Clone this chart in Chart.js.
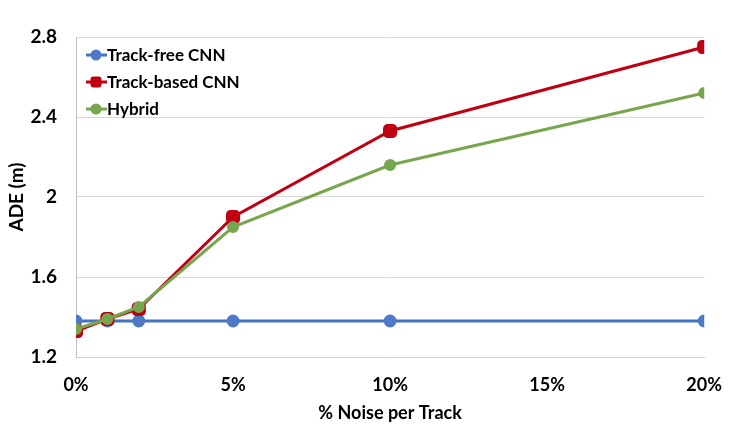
<!DOCTYPE html>
<html>
<head>
<meta charset="utf-8">
<script src="https://cdn.jsdelivr.net/npm/chart.js@4"></script>
<style>
  html, body { margin: 0; padding: 0; background: #fff; }
  #wrap { width: 739px; height: 426px; }
</style>
</head>
<body>
<div id="wrap"><canvas id="ade-chart" width="739" height="426"></canvas></div>
<script>
// noise levels (% per track)
const noiseLevels = [0, 1, 2, 5, 10, 20];
const xTicks = [0, 5, 10, 15, 20];

// ADE (m) per model
const trackFree = [1.38, 1.38, 1.38, 1.38, 1.38, 1.38];
const trackBased = [1.33, 1.39, 1.44, 1.90, 2.33, 2.75];
const hybrid = [1.34, 1.39, 1.45, 1.85, 2.16, 2.52];

const FONT = 'Lato, "Liberation Sans", sans-serif';

function toPoints(values) {
    return values.map((v, i) => ({ x: noiseLevels[i], y: v }));
}

// legend drawn inside the plot, line + marker like the original
const insideLegend = {
    id: 'insideLegend',
    afterDatasetsDraw(chart) {
        const ctx = chart.ctx;
        const rows = [55, 82, 109];
        ctx.save();
        chart.data.datasets.forEach((ds, i) => {
            const y = rows[i];
            ctx.strokeStyle = ds.borderColor;
            ctx.lineWidth = 3;
            ctx.beginPath();
            ctx.moveTo(86, y);
            ctx.lineTo(107, y);
            ctx.stroke();
            ctx.fillStyle = ds.pointBackgroundColor;
            ctx.beginPath();
            if (ds.pointStyle === 'rectRounded') {
                ctx.roundRect(90.5, y - 5.5, 11, 11, 3);
            } else {
                ctx.arc(96, y, 5.5, 0, Math.PI * 2);
            }
            ctx.fill();
            ctx.fillStyle = '#000';
            ctx.font = 'bold 17px ' + FONT;
            ctx.textBaseline = 'middle';
            ctx.fillText(ds.label, 107, y + 1);
        });
        ctx.restore();
    }
};

const ctx = document.getElementById('ade-chart').getContext('2d');
new Chart(ctx, {
    type: 'line',
    data: {
        datasets: [
            {
                label: 'Track-free CNN',
                data: toPoints(trackFree),
                borderColor: '#4472C4',
                backgroundColor: '#4472C4',
                pointBackgroundColor: '#4F79C6',
                pointBorderColor: '#4F79C6',
                pointStyle: 'circle',
                pointRadius: 5,
                borderWidth: 3,
                order: 3
            },
            {
                label: 'Track-based CNN',
                data: toPoints(trackBased),
                borderColor: '#C00012',
                backgroundColor: '#C00012',
                pointBackgroundColor: '#C00012',
                pointBorderColor: '#C00012',
                pointStyle: 'rectRounded',
                pointRadius: 6.5,
                borderWidth: 3,
                order: 2
            },
            {
                label: 'Hybrid',
                data: toPoints(hybrid),
                borderColor: '#77A64E',
                backgroundColor: '#77A64E',
                pointBackgroundColor: '#77A64E',
                pointBorderColor: '#77A64E',
                pointStyle: 'circle',
                pointRadius: 4.5,
                borderWidth: 3,
                order: 1
            }
        ]
    },
    options: {
        responsive: false,
        animation: false,
        layout: { padding: { left: 0, right: 31, top: 37, bottom: 2 } },
        plugins: {
            legend: { display: false },
            tooltip: { enabled: false }
        },
        scales: {
            x: {
                type: 'linear',
                min: 0,
                max: 20,
                afterBuildTicks: (scale) => { scale.ticks = xTicks.map(v => ({ value: v })); },
                grid: { display: false, drawTicks: false },
                border: { display: true, color: '#D0D0D0', width: 1 },
                ticks: {
                    padding: 17,
                    color: '#000',
                    font: { family: FONT, size: 18, weight: 'bold' },
                    callback: (v) => v + '%'
                },
                title: {
                    display: true,
                    text: '% Noise per Track',
                    color: '#000',
                    font: { family: FONT, size: 18, weight: 'bold' },
                    padding: { top: 4, bottom: 0 }
                },
                afterFit: (scale) => { scale.height = 426 - 357 - 2; }
            },
            y: {
                min: 1.2,
                max: 2.8,
                ticks: {
                    stepSize: 0.4,
                    padding: 19,
                    color: '#000',
                    font: { family: FONT, size: 19, weight: 'bold' },
                    callback: (v) => Number(v.toFixed(1)).toString()
                },
                grid: { color: '#D9D9D9', lineWidth: 1, drawTicks: false },
                border: { display: true, color: '#BFBFBF', width: 1 },
                title: {
                    display: true,
                    text: 'ADE (m)',
                    color: '#000',
                    font: { family: FONT, size: 19, weight: 'bold' },
                    padding: { top: 5, bottom: 0 }
                },
                afterFit: (scale) => { scale.width = 76; }
            }
        }
    },
    plugins: [insideLegend]
});
</script>
</body>
</html>
